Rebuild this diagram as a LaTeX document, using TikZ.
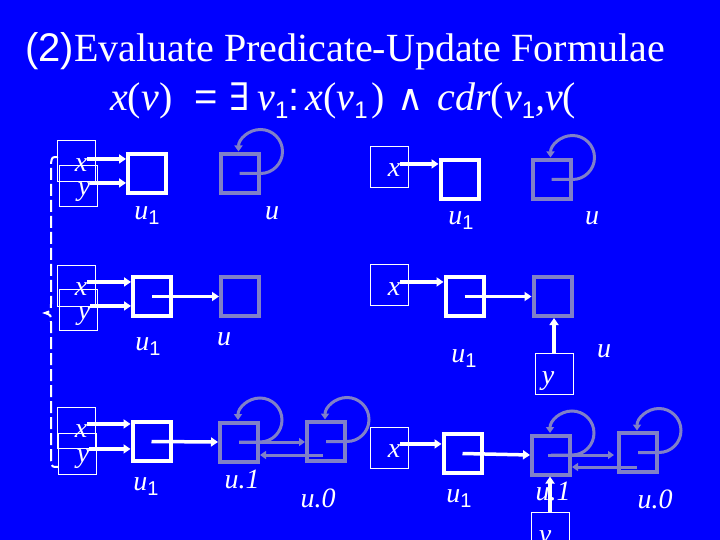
\documentclass[tikz,border=0pt]{standalone}
\usepackage{fontspec}
\setmainfont{Liberation Serif}
\setsansfont{Liberation Sans}
\newfontfamily\symfont{DejaVu Serif}
\usetikzlibrary{arrows.meta}
\definecolor{bg}{RGB}{0,0,255}
\definecolor{gr}{RGB}{128,128,200}
\newcommand\subone[2]{\raisebox{#1}{\sffamily\upshape\fontsize{#2}{#2}\selectfont 1}}
\newcommand\up[1]{{\upshape #1}}
\newcommand\selfloop[1]{\draw[gloop] (#1.center) -- (#1.east) arc[start angle=90,end angle=-180,radius=22];}
\begin{document}
\begin{tikzpicture}[x=1pt,y=-1pt,
  wbox/.style={draw=white,line width=4pt,minimum width=38pt,minimum height=39pt,inner sep=0pt},
  gbox/.style={draw=gr,line width=4pt,minimum width=38pt,minimum height=39pt,inner sep=0pt},
  tbox/.style={draw=white,line width=0.9pt,minimum width=38pt,minimum height=41pt,inner sep=0pt},
  lbl/.style={text=white,font=\fontsize{28}{28}\selectfont\itshape,inner sep=0pt,anchor=base},
  warr/.style={draw=white,line width=3.5pt,-{Triangle[length=7pt,width=9pt]}},
  garr/.style={draw=gr,line width=3pt,-{Triangle[length=6pt,width=8pt]}},
  gloop/.style={draw=gr,line width=3pt,-{Triangle[length=6pt,width=8pt]}},
  brace/.style={draw=white,line width=2pt,dash pattern=on 12pt off 4pt}]
\useasboundingbox (0,0) rectangle (720,540);
\clip (0,0) rectangle (720,540);
\fill[bg] (0,0) rectangle (720,540);
% title
\node[anchor=base west,text=white,inner sep=0pt,font=\fontsize{40}{40}\selectfont] (title) at (25,62) {{\sffamily (2)}Evaluate Predicate-Update Formulae};
\node[anchor=base west,text=white,inner sep=0pt,font=\fontsize{40}{40}\selectfont\itshape] (formula) at (110,111)
  {x\up{(}v\up{)}\hspace{22pt}{\sffamily\upshape =}\hspace{12pt}{\symfont\upshape\fontsize{38}{38}\selectfont ∃}\hspace{7pt}v\subone{-8pt}{24}{\sffamily\upshape :}\hspace{6pt}x\up{(}v\subone{-8pt}{24}\hspace{4pt}\up{)}\hspace{12pt}{\symfont\upshape\fontsize{36}{36}\selectfont ∧}\hspace{14pt}cdr\up{(}v\subone{-8pt}{24},v\up{(}};
% brace
\coordinate (bt) at (58,157);
\coordinate (bb) at (58,467);
\draw[brace] (bt) .. controls (52,157) .. (51,163) -- (51,304) .. controls (51,311) .. (45,313) .. controls (51,315) .. (51,322) -- (51,461) .. controls (52,467) .. (bb);

% ---------- row 1 left
\node[tbox] (xbA) at (76.5,161) {};
\node[tbox] (ybA) at (78.5,185.5) {};
\node[lbl] (xlA) at (81,172) {x};
\node[lbl] (ylA) at (84,196) {y};
\node[wbox] (uoA) at (147,173.5) {};
\node[gbox] (guA) at (239.5,173.5) {};
\node[lbl] at (147,220) {u\subone{-5pt}{20}};
\node[lbl] at (272,220) {u};
\draw[warr] (xlA.north east) -- (xlA.north east -| uoA.west);
\draw[warr] (ylA.north east) -- (ylA.north east -| uoA.west);
\selfloop{guA}

% ---------- row 2 left
\node[tbox] (xbB) at (76.5,285.5) {};
\node[tbox] (ybB) at (78.5,309.5) {};
\node[lbl] (xlB) at (81,295) {x};
\node[lbl] (ylB) at (84,319) {y};
\node[wbox] (uoB) at (152,296.5) {};
\node[gbox] (guB) at (240,296.5) {};
\node[lbl] at (148,350) {u\subone{-5pt}{20}};
\node[lbl] at (224,345) {u};
\draw[warr] (xlB.north east) -- (xlB.north east -| uoB.west);
\draw[warr] (ylB.north east) -- (ylB.north east -| uoB.west);
\draw[warr] (uoB.center) -- (guB.west);

% ---------- row 3 left
\node[tbox] (xbC) at (76.5,428) {};
\node[tbox] (ybC) at (77.5,454) {};
\node[lbl] (xlC) at (81,437) {x};
\node[lbl] (ylC) at (83,462) {y};
\node[wbox] (uoC) at (151.5,441.5) {};
\node[gbox] (gaC) at (239,442) {};
\node[gbox] (gbC) at (326,441.5) {};
\node[lbl] at (146,490) {u\subone{-5pt}{20}};
\node[lbl] at (242,488) {u.1};
\node[lbl] at (318,507) {u.0};
\draw[warr] (xlC.north east) -- (xlC.north east -| uoC.west);
\draw[warr] (ylC.north east) -- (ylC.north east -| uoC.west);
\draw[warr] (uoC.center) -- (gaC.west);
\selfloop{gaC}
\selfloop{gbC}
\draw[garr] (gaC.center) -- (gaC.center -| gbC.west);
\draw[garr] ([yshift=-13.5pt,xshift=-3pt]gbC.center) -- ([yshift=-13.5pt]gbC.center -| gaC.east);

% ---------- row 1 right
\node[tbox] (xbD) at (389.5,166.5) {};
\node[lbl] (xlD) at (394,177) {x};
\node[wbox] (uoD) at (459.5,179.5) {};
\node[gbox] (guD) at (551.5,179.5) {};
\node[lbl] at (461,225) {u\subone{-5pt}{20}};
\node[lbl] at (592,225) {u};
\draw[warr] (xlD.north east) -- (xlD.north east -| uoD.west);
\selfloop{guD}

% ---------- row 2 right
\node[tbox] (xbE) at (389.5,285) {};
\node[lbl] (xlE) at (394,295) {x};
\node[wbox] (uoE) at (464.5,296.5) {};
\node[gbox] (guE) at (552.5,296.5) {};
\node[tbox] (ybE) at (554,374) {};
\node[lbl] (ylE) at (548,384) {y};
\node[lbl] at (464,362) {u\subone{-5pt}{20}};
\node[lbl] at (604,357) {u};
\draw[warr] (xlE.north east) -- (xlE.north east -| uoE.west);
\draw[warr] (uoE.center) -- (guE.west);
\draw[warr] (ybE.north) -- (ybE.north |- guE.south);

% ---------- row 3 right
\node[tbox] (xbF) at (389,448) {};
\node[lbl] (xlF) at (394,457) {x};
\node[wbox] (uoF) at (462.5,453.5) {};
\node[gbox] (gaF) at (551,455) {};
\node[gbox] (gbF) at (638,452.5) {};
\node[tbox] (ybF) at (550,533) {};
\node[lbl] (ylF) at (545,543) {y};
\node[lbl] at (459,502) {u\subone{-5pt}{20}};
\node[lbl] at (553,500) {u.1};
\node[lbl] at (655,508) {u.0};
\draw[warr] (xlF.north east) -- (xlF.north east -| uoF.west);
\draw[warr] (uoF.center) -- (gaF.west);
\draw[warr] (ybF.north) -- (ybF.north |- gaF.south);
\selfloop{gaF}
\selfloop{gbF}
\draw[garr] ([xshift=-3pt]gaF.center) -- ([xshift=-3pt]gaF.center -| gbF.west);
\draw[garr] ([yshift=-14.5pt,xshift=-1pt]gbF.center) -- ([yshift=-14.5pt]gbF.center -| gaF.east);
\end{tikzpicture}
\end{document}
